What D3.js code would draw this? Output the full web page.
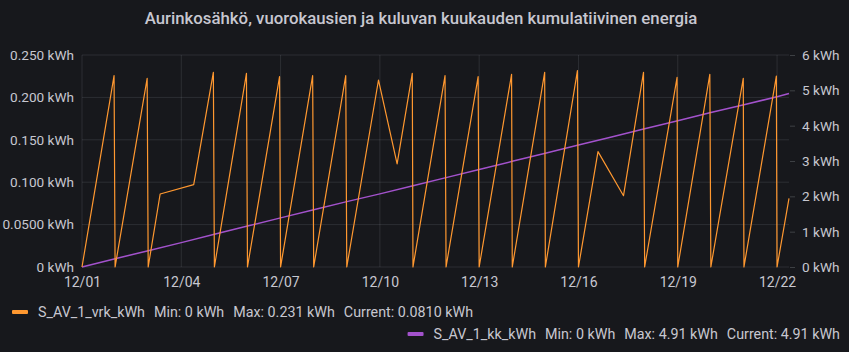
<!DOCTYPE html>
<html>
<head>
<meta charset="utf-8">
<script src="https://cdn.jsdelivr.net/npm/d3@7"></script>
<style>
  html, body { margin: 0; padding: 0; background: #17181c; }
  svg { display: block; font-family: Roboto, "Noto Sans", sans-serif; }
</style>
</head>
<body>
<div id="chart"></div>
<script>
// daily energy (resets at midnight), kWh
const vrkTimes = [
  '2023-12-01T00:00', '2023-12-01T23:15', '2023-12-02T00:00', '2023-12-02T23:15',
  '2023-12-03T00:00', '2023-12-03T08:40', '2023-12-04T09:00', '2023-12-04T23:15',
  '2023-12-05T00:00', '2023-12-05T23:15', '2023-12-06T00:00', '2023-12-06T23:15',
  '2023-12-07T00:00', '2023-12-07T23:15', '2023-12-08T00:00', '2023-12-08T23:15',
  '2023-12-09T00:00', '2023-12-09T23:00', '2023-12-10T12:30', '2023-12-10T23:30',
  '2023-12-11T00:00', '2023-12-11T23:15', '2023-12-12T00:00', '2023-12-12T23:15',
  '2023-12-13T00:00', '2023-12-13T23:30', '2023-12-14T00:00', '2023-12-14T23:30',
  '2023-12-15T00:00', '2023-12-15T23:15', '2023-12-16T00:00', '2023-12-16T14:10',
  '2023-12-17T08:40', '2023-12-17T23:10', '2023-12-18T00:00', '2023-12-18T23:30',
  '2023-12-19T00:00', '2023-12-19T23:15', '2023-12-20T00:00', '2023-12-20T23:30',
  '2023-12-21T00:00', '2023-12-21T23:30', '2023-12-22T00:00', '2023-12-22T08:40'
]
const vrkValues = [
  0, 0.2256, 0, 0.2225,
  0, 0.0861, 0.0971, 0.2296,
  0, 0.2284, 0, 0.2244,
  0, 0.2256, 0, 0.2256,
  0, 0.2205, 0.1215, 0.2284,
  0, 0.2256, 0, 0.2244,
  0, 0.2272, 0, 0.2296,
  0, 0.2315, 0, 0.1360,
  0.0841, 0.2296, 0, 0.2237,
  0, 0.2272, 0, 0.2225,
  0, 0.2252, 0, 0.0810
]

// month cumulative energy, kWh
const kkTimes = [
  '2023-12-01T00:00', '2023-12-02T00:00', '2023-12-03T00:00', '2023-12-04T00:00',
  '2023-12-05T00:00', '2023-12-06T00:00', '2023-12-07T00:00', '2023-12-08T00:00',
  '2023-12-09T00:00', '2023-12-10T00:00', '2023-12-11T00:00', '2023-12-12T00:00',
  '2023-12-13T00:00', '2023-12-14T00:00', '2023-12-15T00:00', '2023-12-16T00:00',
  '2023-12-17T00:00', '2023-12-18T00:00', '2023-12-19T00:00', '2023-12-20T00:00',
  '2023-12-21T00:00', '2023-12-22T00:00', '2023-12-22T08:40'
]
const kkValues = [
  0, 0.235, 0.46, 0.69,
  0.925, 1.16, 1.39, 1.62,
  1.85, 2.07, 2.30, 2.53,
  2.76, 2.99, 3.22, 3.45,
  3.68, 3.91, 4.14, 4.37,
  4.59, 4.82, 4.91
]

const xTicks = ['2023-12-01', '2023-12-04', '2023-12-07', '2023-12-10', '2023-12-13', '2023-12-16', '2023-12-19', '2023-12-22']
const leftTicks = [0, 0.05, 0.1, 0.15, 0.2, 0.25]
const leftTickLabels = ['0 kWh', '0.0500 kWh', '0.100 kWh', '0.150 kWh', '0.200 kWh', '0.250 kWh']
const rightTicks = [0, 1, 2, 3, 4, 5, 6]
const rightTickLabels = ['0 kWh', '1 kWh', '2 kWh', '3 kWh', '4 kWh', '5 kWh', '6 kWh']

const legendVrk = ['S_AV_1_vrk_kWh', 'Min: 0 kWh', 'Max: 0.231 kWh', 'Current: 0.0810 kWh']
const legendKk = ['S_AV_1_kk_kWh', 'Min: 0 kWh', 'Max: 4.91 kWh', 'Current: 4.91 kWh']

const title = 'Aurinkosähkö, vuorokausien ja kuluvan kuukauden kumulatiivinen energia'

const width = 849, height = 352
const plot = { left: 82, right: 789, top: 55, bottom: 267 }
const orange = '#ff9830', purple = '#a352cc'
const textColor = '#c7c7d0'
const gridColor = 'rgba(240,250,255,0.10)'

const parse = d3.utcParse('%Y-%m-%dT%H:%M')
const parseDay = d3.utcParse('%Y-%m-%d')

const vrk = vrkTimes.map((t, i) => ({ t: parse(t), v: vrkValues[i] }))
const kk = kkTimes.map((t, i) => ({ t: parse(t), v: kkValues[i] }))

const svg = d3.select('#chart').append('svg')
  .attr('width', width)
  .attr('height', height)

svg.append('rect').attr('width', width).attr('height', height).attr('fill', '#17181c')

const x = d3.scaleUtc()
  .domain([parse('2023-12-01T00:00'), parse('2023-12-22T08:40')])
  .range([plot.left, plot.right])
const yL = d3.scaleLinear().domain([0, 0.25]).range([plot.bottom, plot.top])
const yR = d3.scaleLinear().domain([0, 6]).range([plot.bottom, plot.top])

// title
svg.append('text')
  .attr('x', 421).attr('y', 24)
  .attr('text-anchor', 'middle')
  .attr('font-size', '16.8px')
  .attr('font-weight', 500)
  .attr('fill', textColor)
  .text(title)

// grid
const grid = svg.append('g')
grid.selectAll('.hg').data(leftTicks).enter().append('line')
  .attr('x1', plot.left).attr('x2', plot.right)
  .attr('y1', d => yL(d)).attr('y2', d => yL(d))
  .attr('stroke', gridColor)
grid.selectAll('.vg').data(xTicks).enter().append('line')
  .attr('x1', d => x(parseDay(d))).attr('x2', d => x(parseDay(d)))
  .attr('y1', plot.top).attr('y2', plot.bottom)
  .attr('stroke', gridColor)

// left axis
const axL = svg.append('g')
  .attr('transform', `translate(${plot.left - 5},0)`)
  .call(d3.axisLeft(yL).tickValues(leftTicks).tickSize(0).tickFormat((d, i) => leftTickLabels[i]))
axL.select('.domain').remove()
axL.selectAll('text').attr('fill', textColor).attr('font-size', '13.6px').attr('font-family', 'Roboto')

// right axis
const axR = svg.append('g')
  .attr('transform', `translate(${plot.right + 1},0)`)
  .call(d3.axisRight(yR).tickValues(rightTicks).tickSize(5).tickPadding(7).tickFormat((d, i) => rightTickLabels[i]))
axR.select('.domain').remove()
axR.selectAll('line').attr('stroke', 'rgba(240,250,255,0.18)')
axR.selectAll('text').attr('fill', textColor).attr('font-size', '13.6px').attr('font-family', 'Roboto')

// bottom axis
const axB = svg.append('g')
  .attr('transform', `translate(0,${plot.bottom + 7})`)
  .call(d3.axisBottom(x).tickValues(xTicks.map(parseDay)).tickSize(0).tickFormat(d3.utcFormat('%m/%d')))
axB.select('.domain').remove()
axB.selectAll('text').attr('fill', textColor).attr('font-size', '14px').attr('font-family', 'Roboto')

// series
svg.append('path')
  .datum(kk)
  .attr('fill', 'none')
  .attr('stroke', purple)
  .attr('stroke-width', 1.5)
  .attr('d', d3.line().x(d => x(d.t)).y(d => yR(d.v)))

svg.append('path')
  .datum(vrk)
  .attr('fill', 'none')
  .attr('stroke', orange)
  .attr('stroke-width', 1.2)
  .attr('stroke-linejoin', 'round')
  .attr('d', d3.line().x(d => x(d.t)).y(d => yL(d.v)))

// legend
function legendRow(items, color, y, startX, alignRight) {
  const g = svg.append('g')
  const texts = items.map(s => g.append('text')
    .attr('y', y + 5)
    .attr('font-size', '14.3px')
    .attr('fill', textColor)
    .text(s))
  const gap = 9
  const widths = texts.map(t => t.node().getComputedTextLength())
  const total = 26 + d3.sum(widths) + gap * (items.length - 1)
  let cx = alignRight ? startX - total : startX
  g.append('rect')
    .attr('x', cx).attr('y', y - 2)
    .attr('width', 16).attr('height', 4)
    .attr('rx', 1)
    .attr('fill', color)
  cx += 26
  texts.forEach((t, i) => { t.attr('x', cx); cx += widths[i] + gap })
}
legendRow(legendVrk, orange, 312, 12, false)
legendRow(legendKk, purple, 334, 840, true)
</script>
</body>
</html>
